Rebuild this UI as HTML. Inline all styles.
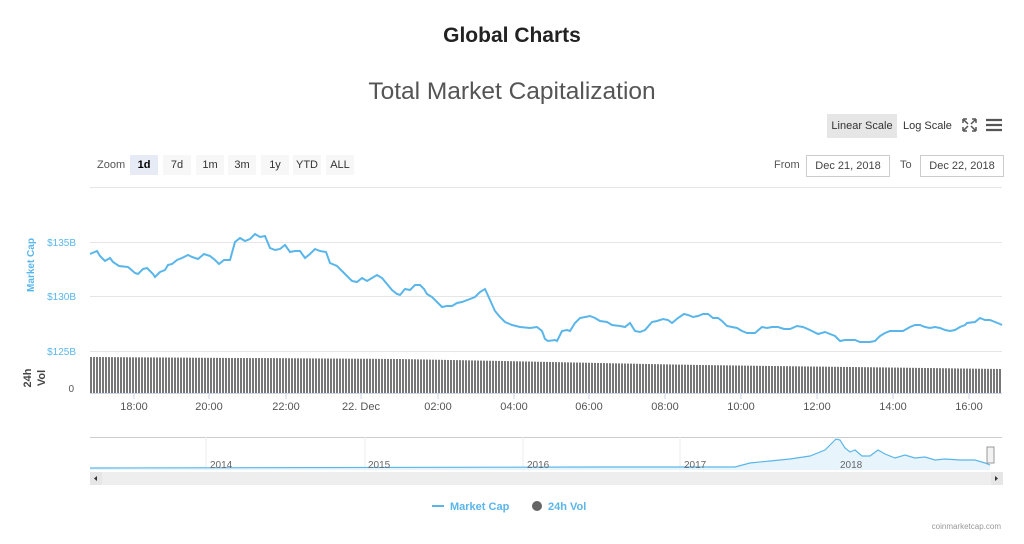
<!DOCTYPE html>
<html><head><style>
body{margin:0;width:1024px;height:544px;background:#fff;font-family:"Liberation Sans",sans-serif;position:relative;overflow:hidden}
.a{position:absolute;white-space:nowrap}
.btn{position:absolute;top:155px;height:20px;line-height:20px;font-size:11px;color:#333;background:#f7f7f7;text-align:center}
.date{position:absolute;top:155px;height:20px;line-height:20px;font-size:11px;color:#444;border:1px solid #ccc;text-align:center;background:#fff}
.xl{position:absolute;top:401px;font-size:11px;color:#555;transform:translateX(-50%)}
</style></head><body>
<div class="a" style="left:0;width:1024px;text-align:center;top:24px;font-size:21px;font-weight:bold;color:#222">Global Charts</div>
<div class="a" style="left:0;width:1024px;text-align:center;top:78px;font-size:24.5px;color:#555">Total Market Capitalization</div>
<div class="a" style="left:827px;top:114px;width:70px;height:24px;line-height:24px;background:#e6e6e6;font-size:11px;color:#333;text-align:center">Linear Scale</div>
<div class="a" style="left:903px;top:114px;height:24px;line-height:24px;font-size:11px;color:#333">Log Scale</div>
<svg class="a" style="left:960px;top:117px" width="44" height="16"><g stroke="#555" stroke-width="1.5" fill="none"><path d="M3 2h4M3 2v4M16 2h-4M16 2v4M3 14h4M3 14v-4M16 14h-4M16 14v-4M4 3l4 4M15 3l-4 4M4 13l4-4M15 13l-4-4"/><path d="M26 3h16M26 8h16M26 13h16" stroke-width="2.2"/></g></svg>
<div class="a" style="left:97px;top:159px;font-size:11px;color:#555">Zoom</div>
<div class="btn" style="left:130px;width:28px;background:#e6ebf5;font-weight:bold;color:#000">1d</div>
<div class="btn" style="left:163px;width:28px">7d</div>
<div class="btn" style="left:196px;width:28px">1m</div>
<div class="btn" style="left:228px;width:28px">3m</div>
<div class="btn" style="left:261px;width:28px">1y</div>
<div class="btn" style="left:293px;width:28px">YTD</div>
<div class="btn" style="left:326px;width:28px">ALL</div>
<div class="a" style="left:774px;top:159px;font-size:11px;color:#555">From</div>
<div class="date" style="left:806px;width:82px">Dec 21, 2018</div>
<div class="a" style="left:900px;top:159px;font-size:11px;color:#555">To</div>
<div class="date" style="left:920px;width:82px">Dec 22, 2018</div>
<svg class="a" style="left:0;top:0" width="1024" height="544">
<defs><pattern id="p" width="3" height="10" patternUnits="userSpaceOnUse"><rect width="2" height="10" fill="#777"/></pattern></defs>
<g stroke="#e6e6e6" stroke-width="1"><path d="M90 187.5H1002M90 242.5H1002M90 296.5H1002M90 351.5H1002"/></g>
<polygon points="90,357 400,359 700,365 1002,369 1002,393 90,393" fill="url(#p)"/>
<path d="M90 393.5H1002" stroke="#ccd6eb"/>
<g stroke="#ccd6eb"><path d="M134 394v5M209 394v5M286 394v5M361 394v5M438 394v5M514 394v5M589 394v5M665 394v5M741 394v5M817 394v5M893 394v5M969 394v5"/></g>
<polyline fill="none" stroke="#5ab6ea" stroke-width="2" points="90,254 97,251 100,256 105,261 110,258 113,262 119,266 128,267 135,273 138,274 143,269 147,268 153,274 155,277 160,272 165,270 168,265 172,264 177,260 182,258 188,255 192,257 198,259 204,254 210,256 215,260 219,264 224,260 230,260 235,242 240,238 245,241 250,239 255,234 260,237 265,236 270,248 275,250 280,249 285,245 290,252 295,251 300,251 305,258 310,254 315,249 320,251 326,252 330,263 337,266 342,271 346,275 352,281 357,282 362,278 367,281 372,278 377,275 382,278 387,284 392,290 397,294 400,295 405,289 410,290 415,285 420,285 424,289 427,294 432,297 437,302 442,307 447,306 452,306 457,303 462,302 470,299 475,297 480,292 485,289 490,300 495,311 500,317 505,322 512,325 520,327 530,328 537,327 542,331 545,339 548,341 555,340 557,341 562,331 567,330 570,331 575,323 580,318 590,316 595,318 600,321 607,322 612,325 620,326 625,327 630,323 635,331 640,332 645,330 652,322 657,321 663,319 668,320 672,323 678,318 684,314 688,315 693,317 698,316 703,314 708,314 713,318 718,318 722,321 727,326 732,327 737,328 742,331 747,333 755,333 762,327 767,328 772,327 778,327 784,329 790,329 797,326 803,327 810,330 818,334 825,332 830,334 835,336 840,341 845,340 850,340 855,340 860,342 870,342 875,341 880,336 885,333 890,331 897,331 903,331 910,327 915,325 920,325 925,327 930,328 935,327 940,328 945,330 950,331 955,330 960,327 965,325 967,323 975,322 980,318 985,320 990,320 995,322 1000,324 1002,325"/>
<text x="76" y="246" font-size="10" fill="#5ab6ea" text-anchor="end" font-family="Liberation Sans">$135B</text>
<text x="76" y="300" font-size="10" fill="#5ab6ea" text-anchor="end" font-family="Liberation Sans">$130B</text>
<text x="76" y="355" font-size="10" fill="#5ab6ea" text-anchor="end" font-family="Liberation Sans">$125B</text>
<text x="74" y="392" font-size="10" fill="#555" text-anchor="end" font-family="Liberation Sans">0</text>
<text transform="translate(34,265) rotate(-90)" font-size="10" font-weight="bold" fill="#5ab6ea" text-anchor="middle" font-family="Liberation Sans">Market Cap</text>
<text transform="translate(31,378) rotate(-90)" font-size="11" font-weight="bold" fill="#444" text-anchor="middle" font-family="Liberation Sans">24h</text>
<text transform="translate(45,378) rotate(-90)" font-size="11" font-weight="bold" fill="#444" text-anchor="middle" font-family="Liberation Sans">Vol</text>
<path d="M90 437.5H1002" stroke="#ccc"/>
<g stroke="#eee"><path d="M206 437v34M365 437v34M523 437v34M680 437v34M836 437v34"/></g>
<polygon fill="#e8f4fc" points="90,468 600,467 735,467 750,463 770,461 790,459 810,456 825,450 832,443 836,439 840,440 845,448 850,452 855,450 862,456 870,456 878,450 885,454 895,458 905,455 915,458 925,457 935,460 945,459 960,460 975,460 985,463 990,465 990,470 90,470"/>
<polyline fill="none" stroke="#5ab6ea" stroke-width="1.2" points="90,468 600,467 735,467 750,463 770,461 790,459 810,456 825,450 832,443 836,439 840,440 845,448 850,452 855,450 862,456 870,456 878,450 885,454 895,458 905,455 915,458 925,457 935,460 945,459 960,460 975,460 985,463 990,465"/>
<g font-size="10" fill="#666" font-family="Liberation Sans"><text x="210" y="468">2014</text><text x="368" y="468">2015</text><text x="527" y="468">2016</text><text x="684" y="468">2017</text><text x="840" y="468">2018</text></g>
<rect x="987" y="447" width="7" height="16" fill="#f2f2f2" stroke="#999"/>
<rect x="90" y="472" width="913" height="13" fill="#eee"/>
<rect x="90" y="472" width="12" height="13" fill="#e6e6e6"/><rect x="991" y="472" width="12" height="13" fill="#e6e6e6"/>
<path d="M97 476l-3 2.5 3 2.5z M995 476l3 2.5-3 2.5z" fill="#333"/>
<path d="M432 506h12" stroke="#5ab6ea" stroke-width="2"/>
<text x="450" y="510" font-size="11" font-weight="bold" fill="#5ab6ea" font-family="Liberation Sans">Market Cap</text>
<circle cx="537" cy="506" r="5" fill="#666"/>
<text x="548" y="510" font-size="11" font-weight="bold" fill="#5ab6ea" font-family="Liberation Sans">24h Vol</text>
<text x="1001" y="529" font-size="8" fill="#999" text-anchor="end" font-family="Liberation Sans">coinmarketcap.com</text>
</svg>
<div class="xl" style="left:134px">18:00</div><div class="xl" style="left:209px">20:00</div><div class="xl" style="left:286px">22:00</div><div class="xl" style="left:361px">22. Dec</div><div class="xl" style="left:438px">02:00</div><div class="xl" style="left:514px">04:00</div><div class="xl" style="left:589px">06:00</div><div class="xl" style="left:665px">08:00</div><div class="xl" style="left:741px">10:00</div><div class="xl" style="left:817px">12:00</div><div class="xl" style="left:893px">14:00</div><div class="xl" style="left:969px">16:00</div>
</body></html>
